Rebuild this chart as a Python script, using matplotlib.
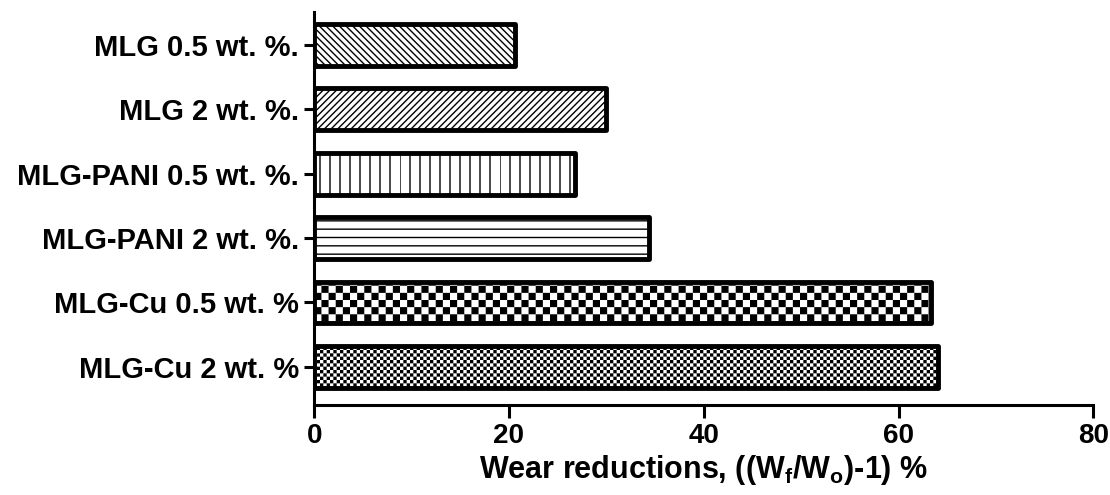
import warnings

import matplotlib
matplotlib.use("Agg")
import matplotlib.hatch as mhatch
import matplotlib.pyplot as plt
import numpy as np
from matplotlib.path import Path

warnings.filterwarnings("ignore", category=matplotlib.MatplotlibDeprecationWarning)

SAMPLES = [
    "MLG 0.5 wt. %.",
    "MLG 2 wt. %.",
    "MLG-PANI 0.5 wt. %.",
    "MLG-PANI 2 wt. %.",
    "MLG-Cu 0.5 wt. %",
    "MLG-Cu 2 wt. %",
]
WEAR_REDUCTION = [20.6, 30.0, 26.8, 34.4, 63.3, 64.1]
HATCHES = ["\\" * 5, "/" * 5, "v" * 2, "--", "c" * 7, "c" * 15]
XTICKS = [0, 20, 40, 60, 80]


class CheckerHatch(mhatch.HatchPatternBase):
    """Filled checkerboard; every 'c' adds two cells per hatch tile."""

    filled = True

    def __init__(self, hatch, density):
        self.n = 2 * hatch.count("c")
        self.num_vertices = 5 * ((self.n * self.n) // 2)

    def set_vertices_and_codes(self, vertices, codes):
        step = 1.0 / self.n
        # shrink each square so the hatch stroke brings it back to cell size
        inset = 0.5 * plt.rcParams["hatch.linewidth"] / 72.0
        k = 0
        for i in range(self.n):
            for j in range(self.n):
                if (i + j) % 2:
                    continue
                x0, y0 = i * step + inset, j * step + inset
                x1, y1 = (i + 1) * step - inset, (j + 1) * step - inset
                vertices[k:k + 5] = [(x0, y0), (x1, y0), (x1, y1), (x0, y1), (x0, y0)]
                codes[k:k + 5] = [Path.MOVETO, Path.LINETO, Path.LINETO,
                                  Path.LINETO, Path.CLOSEPOLY]
                k += 5


class SparseVerticalHatch(mhatch.HatchPatternBase):
    """Vertical lines, five per tile for every 'v'."""

    def __init__(self, hatch, density):
        self.num_lines = 5 * hatch.count("v")
        self.num_vertices = 2 * self.num_lines

    def set_vertices_and_codes(self, vertices, codes):
        xs = np.arange(self.num_lines) / self.num_lines
        vertices[0::2, 0] = xs
        vertices[0::2, 1] = 0.0
        vertices[1::2, 0] = xs
        vertices[1::2, 1] = 1.0
        codes[0::2] = Path.MOVETO
        codes[1::2] = Path.LINETO


mhatch._hatch_types.extend([CheckerHatch, SparseVerticalHatch])

plt.rcParams["font.family"] = ["Liberation Sans", "DejaVu Sans"]
plt.rcParams["font.weight"] = "bold"
plt.rcParams["mathtext.fontset"] = "custom"
plt.rcParams["mathtext.rm"] = "Liberation Sans:bold"
plt.rcParams["mathtext.bf"] = "Liberation Sans:bold"
plt.rcParams["mathtext.default"] = "bf"
plt.rcParams["hatch.linewidth"] = 1.0

fig = plt.figure(figsize=(11.1, 4.95), dpi=100)
ax = fig.add_axes([0.283, 0.182, 0.702, 0.794])

y = np.arange(len(SAMPLES))
bars = ax.barh(y, WEAR_REDUCTION, height=0.65, color="white",
               edgecolor="black", linewidth=3.5, zorder=3)
for bar, hatch in zip(bars, HATCHES):
    bar.set_hatch(hatch)
    bar.set_joinstyle("round")

ax.set_yticks(y)
ax.set_yticklabels(SAMPLES, fontsize=21, fontweight="bold")
ax.set_ylim(len(SAMPLES) - 1 + 0.59, -0.51)

ax.set_xticks(XTICKS)
ax.set_xticklabels([str(t) for t in XTICKS], fontsize=20, fontweight="bold")
ax.set_xlim(0, 80)
ax.set_xlabel(r"Wear reductions, ((W$_{f}$/W$_{o}$)-1) %",
              fontsize=22, fontweight="bold", labelpad=3)

for side in ("top", "right"):
    ax.spines[side].set_visible(False)
for side in ("left", "bottom"):
    ax.spines[side].set_linewidth(2.2)
    ax.spines[side].set_zorder(4)
ax.tick_params(axis="y", length=7, width=2.2, pad=4)
ax.tick_params(axis="x", length=9, width=2.2, pad=4)

fig.savefig("out.png", dpi=100)
